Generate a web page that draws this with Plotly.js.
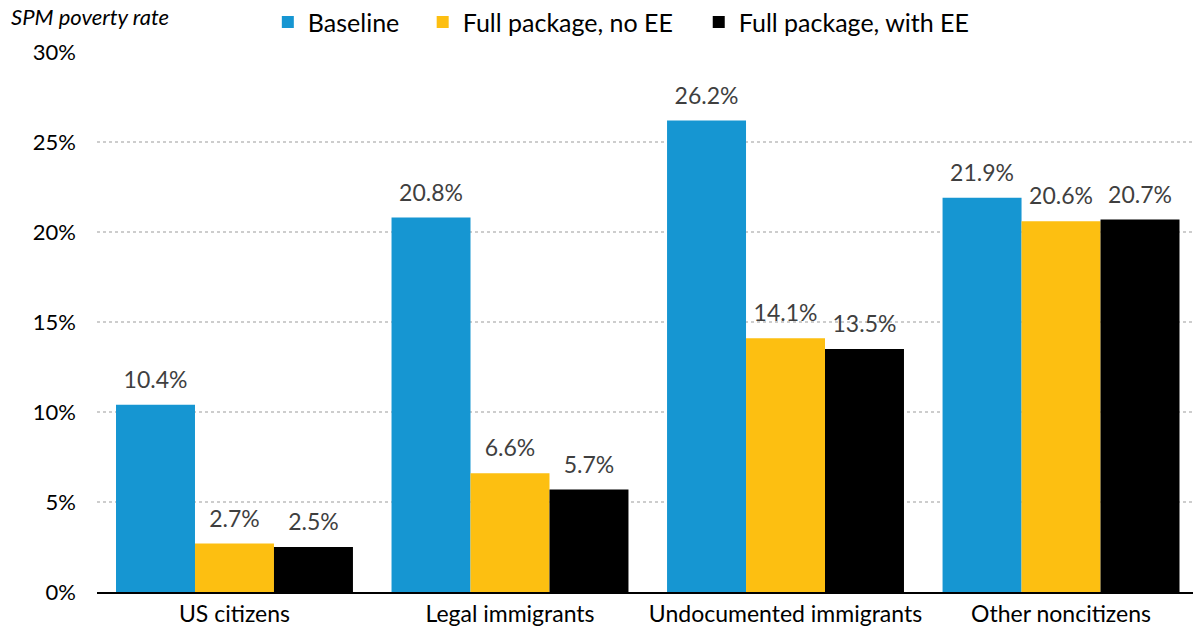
<!DOCTYPE html>
<html>
<head>
<meta charset="utf-8">
<script src="https://cdn.plot.ly/plotly-3.0.1.min.js"></script>
<style>html,body{margin:0;padding:0;background:#fff;}#chart{width:1193px;height:634px;}</style>
</head>
<body>
<div id="chart"></div>
<script>
const categories = ["US citizens", "Legal immigrants", "Undocumented immigrants", "Other noncitizens"];
const seriesNames = ["Baseline", "Full package, no EE", "Full package, with EE"];
const baseline = [10.4, 20.8, 26.2, 21.9];
const fullNoEE = [2.7, 6.6, 14.1, 20.6];
const fullWithEE = [2.5, 5.7, 13.5, 20.7];
const yTickVals = [0, 5, 10, 15, 20, 25, 30];
const yTickText = ["0%", "5%", "10%", "15%", "20%", "25%", "30%"];
const yTitle = "SPM poverty rate";

const colors = ["#1696d2", "#fdbf11", "#000000"];
const allSeries = [baseline, fullNoEE, fullWithEE];
const legendIds = ["legend", "legend2", "legend3"];
const legendX = [0.2245, 0.3543, 0.5857];
const FONT = "Lato, 'Open Sans', sans-serif";
const GAP = 0.14;

const barTraces = allSeries.map((vals, i) => ({
  type: "bar",
  name: seriesNames[i],
  legend: legendIds[i],
  x: categories,
  y: vals,
  marker: {color: colors[i], line: {width: 0}},
  hoverinfo: "skip"
}));

const labelTraces = allSeries.map((vals, i) => ({
  type: "scatter",
  mode: "markers+text",
  showlegend: false,
  x: categories,
  y: vals,
  text: vals.map(v => v.toFixed(1) + "%"),
  textposition: "top center",
  textfont: {family: FONT, size: 23, color: "#3f3f3f"},
  marker: {size: 16, opacity: 0, color: colors[i]},
  cliponaxis: false,
  hoverinfo: "skip"
}));

const legendBase = {
  orientation: "h",
  xref: "container", yref: "container",
  xanchor: "left",
  y: 0.965, yanchor: "middle",
  font: {family: FONT, size: 25, color: "#000000"},
  bgcolor: "rgba(0,0,0,0)",
  itemclick: false
};

const layout = {
  width: 1193,
  height: 634,
  margin: {l: 97, r: 0, t: 52, b: 42},
  paper_bgcolor: "#ffffff",
  plot_bgcolor: "#ffffff",
  font: {family: FONT, color: "#000000"},
  barmode: "group",
  bargap: GAP,
  bargroupgap: 0,
  scattermode: "group",
  scattergap: GAP,
  showlegend: true,
  legend: Object.assign({}, legendBase, {x: legendX[0]}),
  legend2: Object.assign({}, legendBase, {x: legendX[1]}),
  legend3: Object.assign({}, legendBase, {x: legendX[2]}),
  xaxis: {
    type: "category",
    range: [-0.499, 3.479],
    showline: true,
    linecolor: "#000000",
    linewidth: 2,
    ticks: "",
    showgrid: false,
    tickfont: {family: FONT, size: 23, color: "#000000"},
    fixedrange: true
  },
  yaxis: {
    range: [0, 30],
    tickvals: yTickVals,
    ticktext: yTickText,
    showgrid: true,
    gridcolor: "#cdcdcd",
    gridwidth: 2,
    griddash: "dot",
    zeroline: false,
    showline: false,
    ticks: "",
    ticklabelstandoff: 20,
    tickfont: {family: FONT, size: 22, color: "#000000"},
    fixedrange: true
  },
  annotations: [{
    text: yTitle,
    xref: "paper", yref: "paper",
    x: -0.0803, y: 1.0,
    xanchor: "left", yanchor: "bottom",
    yshift: 20,
    showarrow: false,
    font: {family: FONT, size: 22, color: "#000000", style: "italic"}
  }]
};

Plotly.newPlot("chart", barTraces.concat(labelTraces), layout, {displayModeBar: false, staticPlot: true});
</script>
</body>
</html>
